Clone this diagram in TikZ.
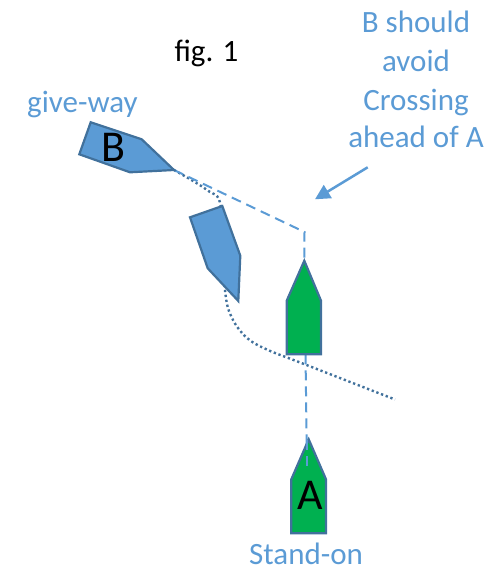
\documentclass[tikz,border=0pt]{standalone}
\usepackage{fontspec}
\setmainfont{Carlito}
\usetikzlibrary{arrows.meta}
\definecolor{lblue}{HTML}{5B9BD5}
\definecolor{dblue}{HTML}{41719C}
\definecolor{sgreen}{HTML}{00B050}
\tikzset{
  bluehull/.style={fill=lblue, draw=dblue, line width=2.2pt, line join=miter},
  greenhull/.style={fill=sgreen, draw=dblue, line width=2.2pt, line join=miter},
  course/.style={draw=lblue, line width=2pt, dash pattern=on 10pt off 6pt},
  track/.style={draw=dblue, line width=2.4pt, dash pattern=on 2.3pt off 2.7pt},
  note/.style={text=lblue, font=\fontsize{31}{37}\selectfont, inner sep=0pt},
  shipletter/.style={text=black, font=\fontsize{44}{50}\selectfont, inner sep=0pt}
}
\begin{document}
\begin{tikzpicture}[x=1pt,y=-1pt]
\useasboundingbox (0,0) rectangle (489,569);
% key points
\coordinate (Bbow) at (174,170);
\coordinate (bend) at (304.5,232);
\coordinate (A1bow) at (304.3,260.7);
\coordinate (A1stern) at (305.5,354.3);
\coordinate (A2in) at (307,470);
\coordinate (trackend) at (395,399.5);
% dotted track of B
\draw[track] plot[smooth, tension=0.55] coordinates {(Bbow) (207,190) (221,207) (225,290) (232,318) (247,338) (268,350) (304,364) (trackend)};
% B's proposed course (dashed)
\draw[course] (Bbow) -- (bend) -- (A1bow);
\draw[course] (A1stern) -- (A2in);
% ship B (first position)
\draw[bluehull] (90.7,122.3) -- (141.7,139.3) -- (Bbow) -- (130,172.3) -- (79.3,154.3) -- cycle;
\node[shipletter] (Blabel) at (113,147.5) {B};
% ship B (second position)
\draw[bluehull] (190,217.3) -- (222.3,206) -- (240.3,255.7) -- (238.3,301) -- (207.7,268.3) -- cycle;
% ship A (later position)
\draw[greenhull] (A1bow) -- (321,300.7) -- (321,354.3) -- (286.7,354.3) -- (286.7,300.7) -- cycle;
% ship A (first position)
\draw[greenhull] (308.7,439.3) -- (326,479.3) -- (326,533.3) -- (291.3,533.3) -- (291.3,479.3) -- cycle;
\draw[course] (307,440) -- (A2in);
\node[shipletter] (Alabel) at (310.5,495.5) {A};
% texts
\node[inner sep=0pt, font=\fontsize{31}{37}\selectfont, anchor=base] (fig) at (206.5,62) {fig. 1};
\node[note, anchor=base west] (giveway) at (27,113) {give-way};
\node[note, anchor=base west] (standon) at (249,564.5) {Stand-on};
\node[note, anchor=base] (n1) at (416,33) {B should};
\node[note, anchor=base] (n2) at (416,72) {avoid};
\node[note, anchor=base] (n3) at (416,111) {Crossing};
\node[note, anchor=base] (n4) at (416,148) {ahead of A};
% arrow
\coordinate (arrtail) at (367.7,167.3);
\coordinate (arrtip) at (315,199.3);
\draw[lblue, line width=2.5pt, -{Triangle[length=15pt,width=15pt]}] (arrtail) -- (arrtip);
\end{tikzpicture}
\end{document}
